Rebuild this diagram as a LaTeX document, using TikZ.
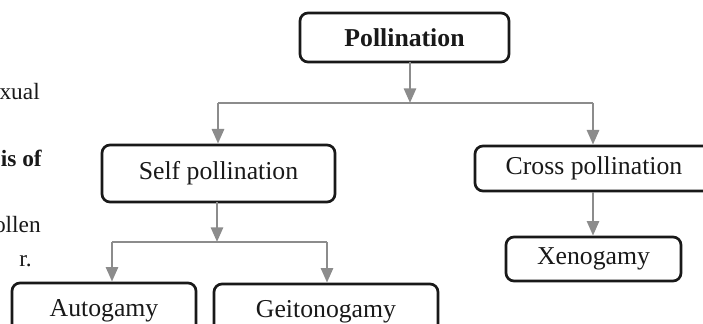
\documentclass[tikz,border=0pt]{standalone}
\usepackage{fontspec}
\setmainfont{Liberation Serif}
\usetikzlibrary{arrows.meta}
\begin{document}
\begin{tikzpicture}[x=0.75pt,y=-0.75pt,
  box/.style={draw=black!90, line width=2pt, rounded corners=6pt, inner sep=0pt,
    font=\fontsize{19.3}{22}\selectfont, text=black!90},
  conn/.style={draw=black!45, line width=2.1pt},
  arr/.style={conn, -{Triangle[length=11pt,width=9pt]}},
  side/.style={inner sep=0pt, font=\fontsize{17.5}{21}\selectfont, text=black!90, anchor=base east}
]
\clip (0,0) rectangle (703,324);
\fill[white] (0,0) rectangle (703,324);

% boxes
\node[box, minimum width=209*0.75pt, minimum height=49*0.75pt, font=\fontsize{19.3}{22}\selectfont\bfseries] (poll) at (404.5,37.5) {Pollination};
\node[box, minimum width=233*0.75pt, minimum height=57*0.75pt] (self) at (218.5,173.5) {Self pollination};
\node[box, minimum width=238*0.75pt, minimum height=45*0.75pt] (cross) at (594,168.5) {Cross pollination};
\node[box, minimum width=175*0.75pt, minimum height=44*0.75pt] (xeno) at (593.5,259) {Xenogamy};
\node[box, minimum width=184*0.75pt, minimum height=50*0.75pt, text depth=0pt] (auto) at (104,308) {Autogamy};
\node[box, minimum width=224*0.75pt, minimum height=50*0.75pt, text depth=0pt] (geito) at (326,309) {Geitonogamy};

% helper coordinates
\coordinate (p1) at (410,62);
\coordinate (p2) at (410,103);
\coordinate (bl) at (218,103);
\coordinate (br) at (593,103);
\coordinate (s1) at (217,202);
\coordinate (s2) at (217,242);
\coordinate (sl) at (112,242);
\coordinate (sr) at (327,242);

% connectors
\draw[conn] (bl) -- (br);
\draw[arr] (p1) -- (p2);
\draw[arr] (bl) -- (bl |- self.north);
\draw[arr] (br) -- (br |- cross.north);
\draw[conn] (sl) -- (sr);
\draw[arr] (s1) -- (s2);
\draw[arr] (sl) -- (sl |- auto.north);
\draw[arr] (sr) -- (sr |- geito.north);
\draw[arr] (cross.south -| br) -- (xeno.north -| br);

% cut-off page text on the left
\node[side] (t1) at (40,100) {xual};
\node[side, font=\fontsize{17.5}{21}\selectfont\bfseries] (t2) at (42,167) {is of};
\node[side] (t3) at (41,233) {ollen};
\node[side] (t4) at (32,266) {r.};
\end{tikzpicture}
\end{document}
